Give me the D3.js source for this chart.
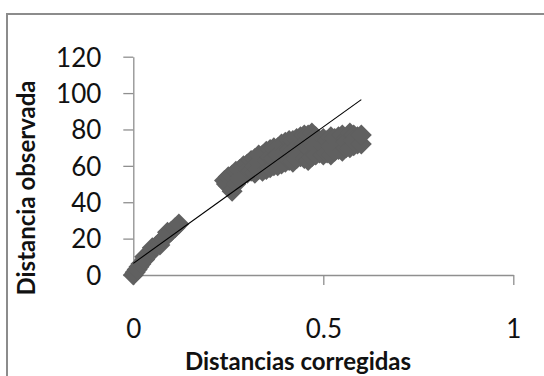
<!DOCTYPE html>
<html>
<head>
<meta charset="utf-8">
<script src="https://cdn.jsdelivr.net/npm/d3@7"></script>
<style>
  html, body { margin: 0; padding: 0; background: #fff; }
  svg { display: block; }
  text { font-family: Lato, "Open Sans", sans-serif; fill: #111; }
</style>
</head>
<body>
<svg id="chart" width="544" height="376"></svg>
<script>
// Corrected distance (x) against observed distance (y)
const corrected = [
  0, 0.005, 0.01, 0.015, 0.02, 0.03, 0.03, 0.04, 0.05, 0.05, 0.06, 0.07, 0.07, 0.08, 0.09, 0.09, 0.10, 0.11, 0.12,
  0.24, 0.245, 0.25, 0.25, 0.26, 0.26, 0.27, 0.27, 0.28, 0.28, 0.29, 0.29,
  0.30, 0.30, 0.30, 0.31, 0.31, 0.32, 0.32, 0.32, 0.33, 0.33, 0.33, 0.34, 0.34, 0.34,
  0.35, 0.35, 0.35, 0.36, 0.36, 0.36, 0.37, 0.37, 0.37, 0.38, 0.38, 0.38, 0.39, 0.39, 0.39,
  0.40, 0.40, 0.40, 0.41, 0.41, 0.41, 0.42, 0.42, 0.42, 0.43, 0.43, 0.43, 0.44, 0.44, 0.44,
  0.45, 0.45, 0.45, 0.46, 0.46, 0.46, 0.47, 0.47, 0.47, 0.48, 0.48, 0.48, 0.49, 0.49, 0.49,
  0.50, 0.50, 0.50, 0.51, 0.51, 0.52, 0.52, 0.52, 0.53, 0.53, 0.54, 0.54, 0.54,
  0.55, 0.55, 0.56, 0.56, 0.56, 0.57, 0.57, 0.58, 0.58, 0.58, 0.59, 0.59, 0.60, 0.60
];
const observed = [
  0, 1.5, 3, 4.5, 6, 8.5, 10, 11, 13.5, 15, 16, 18, 16.5, 20, 22, 23.5, 24, 26, 28,
  52, 50, 54, 49, 46, 55, 50, 57, 53, 58, 55, 60,
  56, 61, 58, 57, 63, 56, 64, 60, 58, 66, 62, 57, 66, 61,
  58, 68, 63, 59, 69, 65, 60, 70, 64, 60, 70, 66, 61, 72, 67,
  62, 73, 68, 63, 74, 69, 62, 74, 68, 64, 75, 70, 65, 76, 70,
  64, 77, 72, 63, 77, 70, 65, 78, 72, 66, 76, 71, 67, 74, 70,
  66, 75, 71, 67, 74, 66, 76, 71, 68, 75, 69, 76, 72,
  68, 77, 70, 75, 73, 70, 78, 71, 77, 74, 72, 76, 72, 77
];

// Linear trend line y = intercept + slope * x
const trendIntercept = 6.4;
const trendSlope = 150;
const trendRange = [0, 0.6];

const xTicks = [0, 0.5, 1];
const yTicks = [0, 20, 40, 60, 80, 100, 120];
const xTitle = "Distancias corregidas";
const yTitle = "Distancia observada";

const svg = d3.select("#chart");

// chart area border
svg.append("rect")
  .attr("x", 7).attr("y", 14)
  .attr("width", 620).attr("height", 420)
  .attr("fill", "none")
  .attr("stroke", "#8c8c8c")
  .attr("stroke-width", 2);

const x = d3.scaleLinear().domain([0, 1]).range([133.3, 513.3]);
const y = d3.scaleLinear().domain([0, 120]).range([275, 56.7]);

// y axis
const yAxis = svg.append("g").attr("transform", `translate(${x(0)},0)`)
  .call(d3.axisLeft(y).tickValues(yTicks).tickSize(10).tickSizeOuter(0).tickFormat(d3.format("d")));
yAxis.select(".domain").attr("stroke", "#8f8f8f").attr("stroke-width", 1.3);
yAxis.selectAll(".tick line").attr("stroke", "#8f8f8f").attr("stroke-width", 1.3);
yAxis.selectAll(".tick text")
  .attr("x", -32)
  .attr("dy", "0.36em")
  .attr("font-size", 26)
  .attr("font-family", "Lato, sans-serif")
  .attr("fill", "#111");

// x axis
const xAxis = svg.append("g").attr("transform", `translate(0,${y(0)})`)
  .call(d3.axisBottom(x).tickValues(xTicks).tickSize(10).tickSizeOuter(0).tickFormat(d => String(d)));
xAxis.select(".domain").attr("stroke", "#8f8f8f").attr("stroke-width", 1.3);
xAxis.selectAll(".tick line").attr("stroke", "#8f8f8f").attr("stroke-width", 1.3);
xAxis.selectAll(".tick text")
  .attr("y", 54)
  .attr("dy", "0.36em")
  .attr("font-size", 26)
  .attr("font-family", "Lato, sans-serif")
  .attr("fill", "#111");

// diamond markers
const r = 10.5;
const diamond = `M0,${-r}L${r},0L0,${r}L${-r},0Z`;
const points = corrected.map((c, i) => ({ c, o: observed[i] }));
svg.append("g").selectAll("path")
  .data(points)
  .join("path")
  .attr("d", diamond)
  .attr("transform", d => `translate(${x(d.c)},${y(d.o)})`)
  .attr("fill", "#606060");

// trend line
svg.append("line")
  .attr("x1", x(trendRange[0])).attr("y1", y(trendIntercept + trendSlope * trendRange[0]))
  .attr("x2", x(trendRange[1])).attr("y2", y(trendIntercept + trendSlope * trendRange[1]))
  .attr("stroke", "#000")
  .attr("stroke-width", 1.1);

// axis titles
svg.append("text")
  .attr("x", 298).attr("y", 370)
  .attr("text-anchor", "middle")
  .attr("font-size", 24).attr("font-weight", "bold")
  .text(xTitle);

svg.append("text")
  .attr("transform", "translate(35,188) rotate(-90)")
  .attr("text-anchor", "middle")
  .attr("font-size", 24).attr("font-weight", "bold")
  .text(yTitle);
</script>
</body>
</html>
